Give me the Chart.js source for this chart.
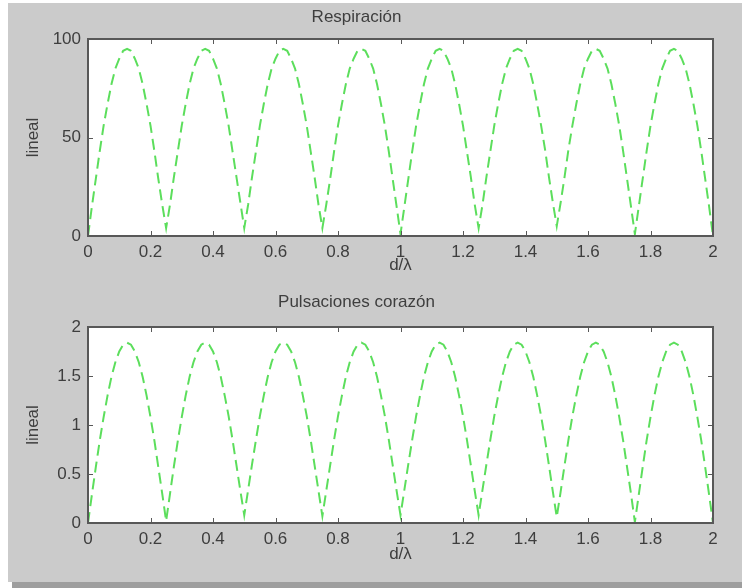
<!DOCTYPE html>
<html>
<head>
<meta charset="utf-8">
<title>Respiración / Pulsaciones corazón</title>
<script src="https://cdn.jsdelivr.net/npm/chart.js@4.4.1/dist/chart.umd.min.js"></script>
<style>
  html, body { margin: 0; padding: 0; background: #fff; }
  body { width: 742px; height: 588px; position: relative; overflow: hidden; }
  #figure { position: absolute; left: 8px; top: 3px; width: 734px; height: 579px; background: #cbcbcb; }
  #shadow { position: absolute; left: 12px; top: 582px; width: 730px; height: 6px; background: #9e9e9e; }
  canvas { position: absolute; left: 0; }
  #topChart { top: 0; }
  #bottomChart { top: 290px; }
</style>
</head>
<body>
<div id="figure"></div>
<div id="shadow"></div>
<canvas id="topChart" width="742" height="290"></canvas>
<canvas id="bottomChart" width="742" height="298"></canvas>
<script>
// sample spacing along d/λ (161 samples from 0 to 2)
const STEP = 0.0125;

const respiracion = [
  0,
  15, 29, 43, 56, 67, 77, 85, 90, 94, 95, 94, 90, 85, 77, 67, 56, 43, 29, 16, 4,
  16, 30, 43, 56, 67, 77, 85, 90, 94, 95, 94, 90, 85, 77, 67, 56, 43, 30, 17, 4,
  16, 30, 43, 56, 67, 77, 85, 90, 94, 95, 94, 90, 85, 77, 67, 56, 43, 30, 16, 4,
  16, 29, 43, 56, 67, 77, 85, 90, 94, 95, 94, 90, 85, 77, 67, 56, 43, 29, 15, 1,
  15, 29, 43, 56, 67, 77, 85, 90, 94, 95, 94, 90, 85, 77, 67, 56, 43, 30, 16, 4,
  16, 30, 43, 56, 67, 77, 85, 90, 94, 95, 94, 90, 85, 77, 67, 56, 44, 30, 17, 5,
  17, 30, 44, 56, 67, 77, 85, 90, 94, 95, 94, 90, 85, 77, 67, 56, 43, 29, 15, 1,
  15, 29, 43, 56, 67, 77, 85, 90, 94, 95, 94, 90, 85, 77, 67, 56, 43, 29, 15, 0
];

const pulsaciones = [
  0,
  0.29, 0.57, 0.84, 1.08, 1.30, 1.49, 1.64, 1.75, 1.82, 1.84, 1.82, 1.75, 1.64, 1.49, 1.30, 1.08, 0.84, 0.57, 0.30, 0.02,
  0.30, 0.58, 0.84, 1.08, 1.30, 1.49, 1.64, 1.75, 1.82, 1.84, 1.82, 1.75, 1.64, 1.49, 1.30, 1.09, 0.85, 0.59, 0.33, 0.08,
  0.34, 0.60, 0.85, 1.09, 1.30, 1.49, 1.64, 1.75, 1.82, 1.84, 1.82, 1.75, 1.64, 1.49, 1.30, 1.09, 0.85, 0.59, 0.33, 0.07,
  0.33, 0.59, 0.85, 1.09, 1.30, 1.49, 1.64, 1.75, 1.82, 1.84, 1.82, 1.75, 1.64, 1.49, 1.30, 1.09, 0.85, 0.59, 0.33, 0.08,
  0.34, 0.60, 0.85, 1.09, 1.30, 1.49, 1.64, 1.75, 1.82, 1.84, 1.82, 1.75, 1.64, 1.49, 1.30, 1.09, 0.85, 0.59, 0.33, 0.08,
  0.34, 0.60, 0.85, 1.09, 1.30, 1.49, 1.64, 1.75, 1.82, 1.84, 1.82, 1.75, 1.64, 1.49, 1.30, 1.09, 0.85, 0.59, 0.32, 0.06,
  0.32, 0.59, 0.85, 1.09, 1.30, 1.49, 1.64, 1.75, 1.82, 1.84, 1.82, 1.75, 1.64, 1.49, 1.30, 1.08, 0.84, 0.57, 0.30, 0.01,
  0.29, 0.57, 0.84, 1.08, 1.30, 1.49, 1.64, 1.75, 1.82, 1.84, 1.82, 1.75, 1.64, 1.49, 1.30, 1.08, 0.84, 0.57, 0.29, 0
];

const xTicks = [0, 0.2, 0.4, 0.6, 0.8, 1, 1.2, 1.4, 1.6, 1.8, 2];
const respTicks = [0, 50, 100];
const pulsTicks = [0, 0.5, 1, 1.5, 2];

const FONT = '"Liberation Sans", Arial, Helvetica, sans-serif';
const TEXT_COLOR = '#3e3e3e';
const AXIS_COLOR = '#585858';
const LINE_COLOR = 'rgb(92, 222, 92)';

// plain number labels: "1" instead of "1.0"
const plainLabel = v => String(Number(v.toFixed(2)));

// white plot box, closed frame and inward ticks on all four sides
const boxAxes = {
  id: 'boxAxes',
  beforeDatasetsDraw(chart) {
    const { ctx, chartArea: a } = chart;
    ctx.save();
    ctx.fillStyle = '#fff';
    ctx.fillRect(a.left, a.top, a.width, a.height);
    ctx.restore();
  },
  afterDraw(chart) {
    const { ctx, chartArea: a, scales: { x, y } } = chart;
    const len = 5;
    ctx.save();
    ctx.strokeStyle = AXIS_COLOR;
    ctx.lineWidth = 1;
    ctx.beginPath();
    x.ticks.forEach(t => {
      const px = Math.round(x.getPixelForValue(t.value)) + 0.5;
      ctx.moveTo(px, a.bottom); ctx.lineTo(px, a.bottom - len);
      ctx.moveTo(px, a.top); ctx.lineTo(px, a.top + len);
    });
    y.ticks.forEach(t => {
      const py = Math.round(y.getPixelForValue(t.value)) + 0.5;
      ctx.moveTo(a.left, py); ctx.lineTo(a.left + len, py);
      ctx.moveTo(a.right, py); ctx.lineTo(a.right - len, py);
    });
    ctx.stroke();
    ctx.lineWidth = 2;
    ctx.strokeRect(a.left, a.top, a.width, a.height);
    ctx.restore();
  }
};

function makeChart(id, cfg) {
  const points = cfg.values.map((v, i) => ({ x: Number((i * STEP).toFixed(4)), y: v }));
  return new Chart(document.getElementById(id), {
    type: 'line',
    data: {
      datasets: [{
        data: points,
        borderColor: LINE_COLOR,
        borderWidth: 2,
        borderDash: [11, 6],
        pointRadius: 0,
        tension: 0,
        fill: false
      }]
    },
    options: {
      responsive: false,
      animation: false,
      layout: { padding: { left: 0, right: 29, top: 0, bottom: 0 } },
      plugins: {
        legend: { display: false },
        tooltip: { enabled: false },
        title: {
          display: true,
          text: cfg.title,
          color: TEXT_COLOR,
          font: { family: FONT, size: 17, weight: 'normal' },
          padding: cfg.titlePad
        }
      },
      scales: {
        x: {
          type: 'linear',
          min: 0,
          max: 2,
          afterBuildTicks: s => { s.ticks = xTicks.map(v => ({ value: v })); },
          afterFit: s => { s.height = cfg.xHeight; },
          grid: { display: false, drawTicks: false },
          border: { display: false },
          ticks: { color: TEXT_COLOR, padding: 6, maxRotation: 0, autoSkip: false,
                   callback: plainLabel, font: { family: FONT, size: 17 } },
          title: { display: true, text: 'd/λ', color: TEXT_COLOR,
                   font: { family: FONT, size: 17 }, padding: { top: 0, bottom: cfg.xTitlePad } }
        },
        y: {
          type: 'linear',
          min: 0,
          max: cfg.yMax,
          afterBuildTicks: s => { s.ticks = cfg.yTicks.map(v => ({ value: v })); },
          afterFit: s => { s.width = 88; },
          grid: { display: false, drawTicks: false },
          border: { display: false },
          ticks: { color: TEXT_COLOR, padding: 7, callback: plainLabel,
                   font: { family: FONT, size: 17 } },
          title: { display: true, text: 'lineal', color: TEXT_COLOR,
                   font: { family: FONT, size: 17 }, padding: { top: 22.8, bottom: 0 } }
        }
      }
    },
    plugins: [boxAxes]
  });
}

makeChart('topChart', {
  values: respiracion,
  title: 'Respiración',
  titlePad: { top: 6.8, bottom: 11.8 },
  yMax: 100,
  yTicks: respTicks,
  xHeight: 54,
  xTitlePad: 14
});

makeChart('bottomChart', {
  values: pulsaciones,
  title: 'Pulsaciones corazón',
  titlePad: { top: 1.8, bottom: 14.8 },
  yMax: 2,
  yTicks: pulsTicks,
  xHeight: 65,
  xTitlePad: 23
});
</script>
</body>
</html>
